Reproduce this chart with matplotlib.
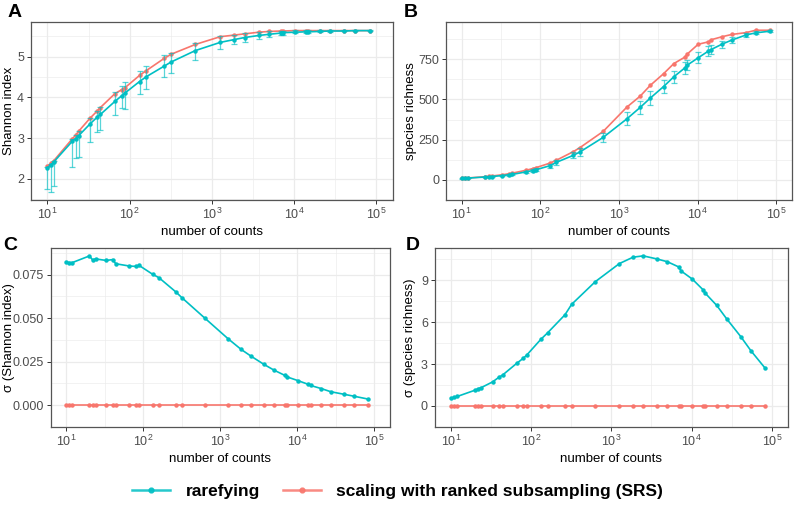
import matplotlib
matplotlib.use("Agg")
import matplotlib.pyplot as plt
from matplotlib.lines import Line2D
from matplotlib.ticker import LogFormatterMathtext, FixedLocator
import numpy as np

plt.rcParams['font.family'] = ['Liberation Sans', 'DejaVu Sans']
plt.rcParams['mathtext.fontset'] = 'custom'
plt.rcParams['mathtext.rm'] = 'Liberation Sans'

# number of counts (subsampling depth)
counts = [10, 11, 12, 20, 22, 24, 33, 40, 44, 66, 80, 88, 132, 160, 264, 320,
          630, 1260, 1870, 2500, 3700, 5000, 6900, 7400, 10200, 13800, 14900,
          20600, 27300, 41000, 55000, 83000]

# panel A: Shannon index
shannon_srs = [2.31, 2.38, 2.45, 2.98, 3.07, 3.17, 3.49, 3.66, 3.75, 4.09, 4.19, 4.24,
               4.54, 4.66, 4.96, 5.06, 5.30, 5.49, 5.53, 5.56, 5.60, 5.62, 5.63, 5.63,
               5.64, 5.64, 5.64, 5.64, 5.64, 5.64, 5.64, 5.64]
shannon_rare = [2.27, 2.35, 2.42, 2.92, 2.99, 3.06, 3.35, 3.51, 3.58, 3.90, 4.04, 4.11,
                4.39, 4.51, 4.77, 4.87, 5.15, 5.35, 5.42, 5.47, 5.52, 5.55, 5.58, 5.59,
                5.60, 5.61, 5.61, 5.62, 5.63, 5.63, 5.64, 5.64]
shannon_lo = [1.75, 1.68, 1.82, 2.29, 2.52, 2.53, 2.90, 3.15, 3.20, 3.56, 3.73, 3.72,
              4.08, 4.20, 4.50, 4.60, 4.93, 5.20, 5.30, 5.37, 5.44, 5.49, 5.53, 5.54,
              5.57, 5.58, 5.59, 5.60, 5.61, 5.62, 5.63, 5.63]
shannon_hi = [2.30, 2.37, 2.45, 2.98, 3.08, 3.17, 3.50, 3.67, 3.76, 4.14, 4.29, 4.37,
              4.64, 4.78, 5.03, 5.10, 5.33, 5.50, 5.54, 5.57, 5.60, 5.62, 5.64, 5.64,
              5.65, 5.65, 5.65, 5.65, 5.65, 5.65, 5.65, 5.65]

# panel B: species richness
richness_srs = [10, 11, 12, 20, 22, 24, 32, 38, 42, 60, 70, 76, 104, 122, 176, 201,
                301, 452, 521, 587, 660, 723, 763, 782, 843, 858, 871, 890, 904, 915,
                930, 930]
richness_rare = [9.5, 10.4, 11.3, 18, 19.5, 21, 27, 32, 34, 50, 58, 63, 88, 109, 153,
                 174, 264, 379, 451, 508, 580, 641, 696, 713, 759, 801, 810, 844, 869,
                 900, 914, 924]
richness_err = [1, 1, 1, 2, 2, 2, 4, 5, 6, 8, 9, 10, 13, 14, 20, 23, 26, 40, 42, 45,
                40, 38, 35, 33, 35, 30, 28, 22, 17, 12, 9, 6]

# panels C and D: standard deviations
sd_shannon_rare = [0.0820, 0.0819, 0.0819, 0.0857, 0.0834, 0.0840, 0.0831, 0.0836,
                   0.0812, 0.0799, 0.0797, 0.0803, 0.0752, 0.0732, 0.0651, 0.0616,
                   0.0500, 0.0382, 0.0320, 0.0282, 0.0234, 0.0201, 0.0171, 0.0162,
                   0.0141, 0.0120, 0.0113, 0.0095, 0.0077, 0.0062, 0.0051, 0.0035]
sd_richness_rare = [0.57, 0.62, 0.68, 1.13, 1.24, 1.32, 1.72, 2.07, 2.21, 3.05, 3.42,
                    3.64, 4.77, 5.23, 6.53, 7.28, 8.9, 10.2, 10.66, 10.75, 10.53, 10.33,
                    9.96, 9.67, 9.09, 8.34, 8.06, 7.2, 6.25, 4.97, 3.95, 2.69]
sd_srs = [0.0] * len(counts)

CYAN = '#00BFC4'
RED = '#F8766D'
GRID = '#EBEBEB'

x = np.array(counts)

fig = plt.figure(figsize=(7.95, 5.07), dpi=100)
axA = fig.add_axes([0.039, 0.6055, 0.455, 0.351])
axB = fig.add_axes([0.561, 0.6055, 0.435, 0.351])
axC = fig.add_axes([0.064, 0.158, 0.426, 0.353])
axD = fig.add_axes([0.547, 0.158, 0.444, 0.353])


def style(ax, yticks, ylim, ylabel, label_x, fmt=None):
    ax.set_xscale('log')
    ax.set_xlim(10 ** 0.8, 10 ** 5.2)
    ax.set_ylim(*ylim)
    ax.xaxis.set_major_locator(FixedLocator([1e1, 1e2, 1e3, 1e4, 1e5]))
    ax.xaxis.set_major_formatter(LogFormatterMathtext())
    ax.xaxis.set_minor_locator(FixedLocator([10 ** (k + 0.5) for k in range(0, 6)]))
    ax.set_yticks(yticks)
    if fmt:
        ax.set_yticklabels([fmt.format(v) for v in yticks])
    mids = [(a + b) / 2 for a, b in zip(yticks[:-1], yticks[1:])]
    step = yticks[1] - yticks[0]
    mids = [yticks[0] - step / 2] + mids + [yticks[-1] + step / 2]
    ax.set_yticks(mids, minor=True)
    ax.grid(True, which='major', color=GRID, lw=0.9, zorder=0)
    ax.grid(True, which='minor', color=GRID, lw=0.45, zorder=0)
    ax.set_axisbelow(True)
    ax.tick_params(which='major', length=3, width=0.7, color='#333333',
                   labelsize=9, labelcolor='#4D4D4D', pad=2)
    ax.tick_params(which='minor', length=0)
    for s in ax.spines.values():
        s.set_color('#555555')
        s.set_linewidth(0.9)
    ax.set_ylabel(ylabel, fontsize=9.5, va='center')
    ax.yaxis.set_label_coords(label_x, 0.5)
    ax.set_xlabel('number of counts', fontsize=9.5, labelpad=3)


# A
axA.plot(x, shannon_srs, color=RED, lw=1.2, marker='o', ms=2.2, zorder=3)
lo = np.array(shannon_rare) - np.array(shannon_lo)
hi = np.array(shannon_hi) - np.array(shannon_rare)
axA.errorbar(x, shannon_rare, yerr=[lo, hi], fmt='none', ecolor=CYAN, alpha=0.65,
             elinewidth=0.9, capsize=2.2, capthick=0.9, zorder=3)
axA.plot(x, shannon_rare, color=CYAN, lw=1.2, marker='o', ms=2.2, zorder=4)
style(axA, [2, 3, 4, 5], (1.48, 5.85), 'Shannon index', -0.062)

# B
axB.plot(x, richness_srs, color=RED, lw=1.2, marker='o', ms=2.2, zorder=3)
axB.errorbar(x, richness_rare, yerr=richness_err, fmt='none', ecolor=CYAN, alpha=0.65,
             elinewidth=0.9, capsize=2.2, capthick=0.9, zorder=3)
axB.plot(x, richness_rare, color=CYAN, lw=1.2, marker='o', ms=2.2, zorder=4)
style(axB, [0, 250, 500, 750], (-38, 981), 'species richness', -0.102)

# C
axC.plot(x, sd_srs, color=RED, lw=1.2, marker='o', ms=2.2, zorder=3)
axC.plot(x, sd_shannon_rare, color=CYAN, lw=1.2, marker='o', ms=2.2, zorder=4)
style(axC, [0.0, 0.025, 0.05, 0.075], (-0.0043, 0.0903), 'σ (Shannon index)', -0.125,
      fmt='{:.3f}')

# D
axD.plot(x, sd_srs, color=RED, lw=1.2, marker='o', ms=2.2, zorder=3)
axD.plot(x, sd_richness_rare, color=CYAN, lw=1.2, marker='o', ms=2.2, zorder=4)
style(axD, [0, 3, 6, 9], (-0.54, 11.32), 'σ (species richness)', -0.07)

# panel letters
for lbl, (px, py) in zip('ABCD', [(0.009, 0.975), (0.508, 0.975),
                                  (0.004, 0.516), (0.510, 0.516)]):
    fig.text(px, py, lbl, fontsize=14, fontweight='bold', va='center', ha='left')

handles = [Line2D([], [], color=CYAN, lw=1.8, marker='o', ms=3.5, alpha=0.85),
           Line2D([], [], color=RED, lw=1.8, marker='o', ms=3.5, alpha=0.85)]
fig.legend(handles, ['rarefying', 'scaling with ranked subsampling (SRS)'],
           loc='center', bbox_to_anchor=(0.5, 0.03), ncol=2, frameon=False,
           prop={'weight': 'bold', 'size': 12.5}, handlelength=2.2,
           columnspacing=1.3, handletextpad=0.9)

fig.savefig('out.png', dpi=100)
